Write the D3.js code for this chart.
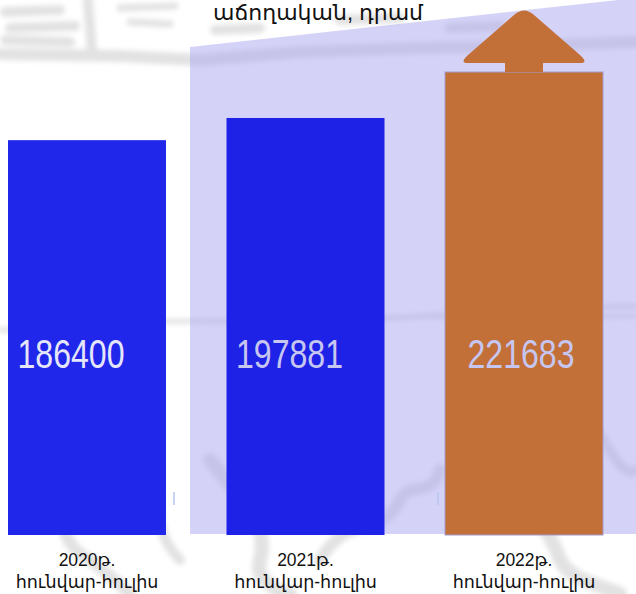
<!DOCTYPE html>
<html><head><meta charset="utf-8">
<script src="https://cdn.jsdelivr.net/npm/d3@7"></script>
<style>html,body{margin:0;padding:0;background:#fff;}svg{display:block;}</style>
</head><body>
<script>
const categories = ["2020թ.", "2021թ.", "2022թ."];
const subLabel = ["հունվար-հուլիս", "հունվար-հուլիս", "հունվար-հուլիս"];
const values = [186400, 197881, 221683];
const valueLabels = ["186400", "197881", "221683"];
const barColors = ["#2127ea", "#1e22e6", "#c36f38"];
const labelColors = ["#e6e6fa", "#c6c6f0", "#c6c6f0"];
const title = "աճողական, դրամ";

const W = 636, H = 594;
const svg = d3.select("body").append("svg").attr("width", W).attr("height", H);
const defs = svg.append("defs");
defs.append("filter").attr("id","blur").append("feGaussianBlur").attr("stdDeviation", 2.5);

// faint sketch-like background
const bg = svg.append("g").attr("filter","url(#blur)").attr("fill","none").attr("stroke","#e2e2e2").attr("stroke-linecap","round").attr("stroke-linejoin","round");
const strokes = [
  ["M0,54 L120,56 L200,60 L300,52 L420,48 L520,46 L636,42", 12],
  ["M5,12 L60,10 M10,28 L75,26 M5,40 L70,42", 10],
  ["M88,0 L92,52", 10],
  ["M120,8 L175,6 M130,22 L170,24", 7],
  ["M215,30 L260,28 M340,20 L400,18 M450,28 L500,26", 10],
  ["M0,330 C100,326 150,318 250,322 C350,326 450,310 636,306", 5],
  ["M360,318 C420,314 480,320 636,316", 4],
  ["M30,470 C70,500 50,540 90,560 C110,575 120,585 130,594", 12],
  ["M150,430 C170,470 140,520 180,560", 10],
  ["M210,460 C240,500 270,520 260,560 C255,575 270,590 290,594", 14],
  ["M320,560 C350,510 380,540 400,500 C410,480 430,500 440,470", 12],
  ["M470,480 C510,520 540,500 560,560 C570,580 600,585 620,594", 14],
  ["M590,420 C610,450 625,480 636,470", 10],
  ["M250,420 C300,440 330,430 360,460", 8]
];
strokes.forEach(([d,w]) => bg.append("path").attr("d", d).attr("stroke-width", w));

const x = d3.scaleBand().domain(categories).range([8, 603]).paddingInner(0.277).paddingOuter(0);
const y = d3.scaleLinear().domain([-18000, 221683]).range([535, 72]);

// lavender panel
svg.append("path")
  .attr("d", "M190,47 L636,-2 L636,534 L190,534 Z")
  .attr("fill", "#a9a7f0").attr("fill-opacity", 0.5);

// small tick marks
svg.selectAll("line.tk").data([174, 438]).join("line")
  .attr("x1", d => d).attr("x2", d => d).attr("y1", 492).attr("y2", 505)
  .attr("stroke", "#b8c4ee").attr("stroke-width", 1.5);

// bars
svg.selectAll("rect.bar").data(values).join("rect")
  .attr("x", (d,i) => x(categories[i]))
  .attr("y", d => y(d))
  .attr("width", x.bandwidth())
  .attr("height", d => y.range()[0] - y(d))
  .attr("fill", (d,i) => barColors[i])
  .attr("stroke", (d,i) => i === 2 ? "#a09ccc" : "none")
  .attr("stroke-width", 1);

// arrow on last bar
const cx = x(categories[2]) + x.bandwidth()/2;
const t = y(values[2]);
const a = d3.path();
a.moveTo(cx - 19, t);
a.lineTo(cx - 19, t - 9);
a.lineTo(cx - 56, t - 9);
a.quadraticCurveTo(cx - 65, t - 9, cx - 56, t - 17);
a.lineTo(cx - 10, t - 57);
a.quadraticCurveTo(cx, t - 66, cx + 10, t - 57);
a.lineTo(cx + 56, t - 17);
a.quadraticCurveTo(cx + 65, t - 9, cx + 56, t - 9);
a.lineTo(cx + 19, t - 9);
a.lineTo(cx + 19, t);
a.closePath();
svg.append("path").attr("d", a.toString()).attr("fill", "#c36f38");

// value labels
const shifts = [-16, -16, -3];
svg.selectAll("text.val").data(values).join("text")
  .attr("x", (d,i) => x(categories[i]) + x.bandwidth()/2 + shifts[i])
  .attr("y", 368)
  .attr("text-anchor", "middle")
  .attr("font-family", "Liberation Sans, Arial, sans-serif")
  .attr("font-size", 40)
  .attr("textLength", 107)
  .attr("lengthAdjust", "spacingAndGlyphs")
  .attr("fill", (d,i) => labelColors[i])
  .text((d,i) => valueLabels[i]);

// category labels
const lab = svg.selectAll("g.cat").data(categories).join("g")
  .attr("transform", d => `translate(${x(d) + x.bandwidth()/2},0)`);
lab.append("text").attr("y", 566).attr("text-anchor","middle")
  .attr("font-family","Liberation Sans, Arial, DejaVu Sans, sans-serif").attr("font-size",17.5).attr("fill","#111")
  .text(d => d);
lab.append("text").attr("y", 588).attr("text-anchor","middle")
  .attr("font-family","Liberation Sans, Arial, DejaVu Sans, sans-serif").attr("font-size",17.5).attr("fill","#111")
  .text((d,i) => subLabel[i]);

// title
svg.append("text").attr("x", 318).attr("y", 20).attr("text-anchor","middle")
  .attr("font-family","Liberation Sans, Arial, DejaVu Sans, sans-serif").attr("font-size",22).attr("fill","#111")
  .text(title);
</script>
</body></html>
